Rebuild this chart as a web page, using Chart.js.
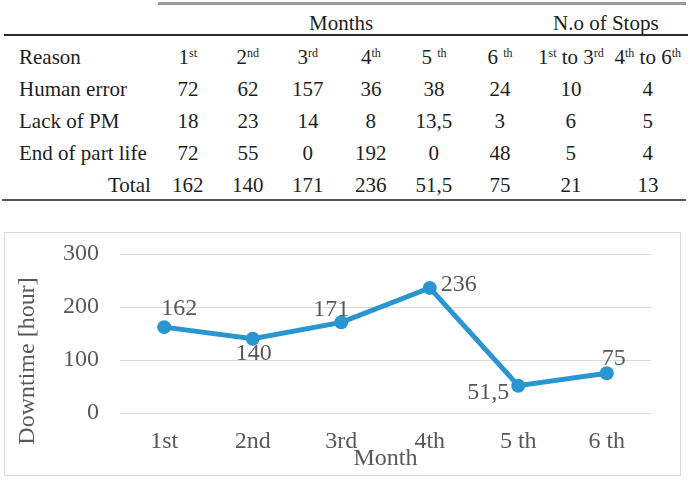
<!DOCTYPE html>
<html>
<head>
<meta charset="utf-8">
<script src="https://cdn.jsdelivr.net/npm/chart.js@4.4.1/dist/chart.umd.min.js"></script>
<style>
    html, body { margin: 0; padding: 0; background: #fff; }
    body { width: 688px; height: 482px; position: relative; overflow: hidden;
           font-family: "Liberation Serif", "Times New Roman", serif; color: #1e1e1e; }
    .cell { position: absolute; font-size: 21px; line-height: 24px; white-space: nowrap; }
    .cell sup { font-size: 12px; vertical-align: 0; position: relative; top: -7px; }
    .rule { position: absolute; }
    #chartBox { position: absolute; left: 4px; top: 232px; width: 677px; height: 244px;
                border: 1px solid #d9d9d9; box-sizing: border-box; }
</style>
</head>
<body>
<div id="table"></div>
<div id="chartBox"><canvas id="downtimeChart"></canvas></div>
<script>
// Data
const monthLabels = ['1st', '2nd', '3rd', '4th', '5 th', '6 th'];
const downtime = [162, 140, 171, 236, 51.5, 75];

const reasonNames = ['Human error', 'Lack of PM', 'End of part life'];
const humanError = [72, 62, 157, 36, 38, 24];
const lackOfPM = [18, 23, 14, 8, 13.5, 3];
const endOfPartLife = [72, 55, 0, 192, 0, 48];

// number of stops: 1st to 3rd, 4th to 6th
const humanErrorStops = [10, 4];
const lackOfPMStops = [6, 5];
const endOfPartLifeStops = [5, 4];
const totalStops = [21, 13];

const headerCells = ['1<sup>st</sup>', '2<sup>nd</sup>', '3<sup>rd</sup>', '4<sup>th</sup>',
    '5 <sup>th</sup>', '6 <sup>th</sup>', '1<sup>st</sup> to 3<sup>rd</sup>', '4<sup>th</sup> to 6<sup>th</sup>'];

// layout of the table (page pixels)
const colCenters = [188, 248, 308, 371, 434, 500, 571, 648];
const rowCenters = [57, 89, 121, 153, 185];

const fmt = v => String(v).replace('.', ',');

function addCell(html, x, yCenter, align) {
    const d = document.createElement('div');
    d.className = 'cell';
    d.innerHTML = html;
    d.style.top = (yCenter - 12) + 'px';
    document.getElementById('table').appendChild(d);
    const w = d.offsetWidth;
    if (align === 'center') d.style.left = (x - w / 2) + 'px';
    else if (align === 'right') d.style.left = (x - w) + 'px';
    else d.style.left = x + 'px';
}

function addRule(x1, x2, y, h, color) {
    const r = document.createElement('div');
    r.className = 'rule';
    r.style.left = x1 + 'px';
    r.style.width = (x2 - x1) + 'px';
    r.style.top = y + 'px';
    r.style.height = h + 'px';
    r.style.background = color;
    document.getElementById('table').appendChild(r);
}

addRule(158, 686, 2, 3, '#9a9a9a');
addCell('Months', 341, 23, 'center');
addCell('N.o of Stops', 606, 23, 'center');
addRule(4, 688, 34, 2, '#2a2a2a');

addCell('Reason', 19, rowCenters[0], 'left');
headerCells.forEach((h, i) => addCell(h, colCenters[i], rowCenters[0], 'center'));

const bodyRows = [
    humanError.concat(humanErrorStops),
    lackOfPM.concat(lackOfPMStops),
    endOfPartLife.concat(endOfPartLifeStops)
];
bodyRows.forEach((row, r) => {
    addCell(reasonNames[r], 19, rowCenters[r + 1], 'left');
    row.forEach((v, i) => addCell(fmt(v), colCenters[i], rowCenters[r + 1], 'center'));
});
addCell('Total', 151, rowCenters[4], 'right');
downtime.concat(totalStops).forEach((v, i) => addCell(fmt(v), colCenters[i], rowCenters[4], 'center'));
addRule(2, 686, 199, 2, '#555555');

// Chart
const lineColor = '#2a96cf';
const textColor = '#595959';
const chartFont = '"Liberation Serif", "Times New Roman", serif';
// label placement relative to each point (px)
const labelOffsets = [[15, -18], [1, 15], [-10, -13], [29, -3], [-30, 7], [7, -15]];

const pointLabels = {
    id: 'pointLabels',
    afterDatasetsDraw(chart) {
        const ctx = chart.ctx;
        const meta = chart.getDatasetMeta(0);
        ctx.save();
        ctx.font = '24px ' + chartFont;
        ctx.fillStyle = textColor;
        ctx.textAlign = 'center';
        ctx.textBaseline = 'middle';
        meta.data.forEach((pt, i) => {
            ctx.fillText(fmt(chart.data.datasets[0].data[i]), pt.x + labelOffsets[i][0], pt.y + labelOffsets[i][1]);
        });
        // axis titles
        const area = chart.chartArea;
        ctx.fillText('Month', (area.left + area.right) / 2, area.bottom + 46);
        ctx.translate(23, area.bottom - 52);
        ctx.rotate(-Math.PI / 2);
        ctx.fillText('Downtime [hour]', 0, 0);
        ctx.restore();
    }
};

new Chart(document.getElementById('downtimeChart'), {
    type: 'line',
    data: {
        labels: monthLabels,
        datasets: [{
            label: 'Downtime',
            data: downtime,
            borderColor: lineColor,
            backgroundColor: lineColor,
            borderWidth: 5,
            pointRadius: 7,
            pointBorderWidth: 0,
            pointBackgroundColor: lineColor,
            tension: 0
        }]
    },
    options: {
        responsive: true,
        maintainAspectRatio: false,
        animation: false,
        layout: { padding: { top: 21, right: 29, left: 0, bottom: 0 } },
        plugins: {
            legend: { display: false },
            tooltip: { enabled: false }
        },
        scales: {
            y: {
                min: 0,
                max: 300,
                ticks: {
                    stepSize: 100,
                    padding: 21,
                    color: textColor,
                    font: { family: chartFont, size: 24 }
                },
                grid: { color: '#d9d9d9', lineWidth: 1, drawTicks: false },
                border: { display: false },
                afterFit: function (scale) {
                    scale.width = 115;
                    scale.paddingTop = 0;
                    scale.paddingBottom = 0;
                }
            },
            x: {
                offset: true,
                ticks: {
                    padding: 14,
                    color: textColor,
                    font: { family: chartFont, size: 24 }
                },
                grid: { display: false, drawTicks: false, offset: true },
                border: { display: false },
                afterFit: function (scale) { scale.height = 62; }
            }
        }
    },
    plugins: [pointLabels]
});
</script>
</body>
</html>
